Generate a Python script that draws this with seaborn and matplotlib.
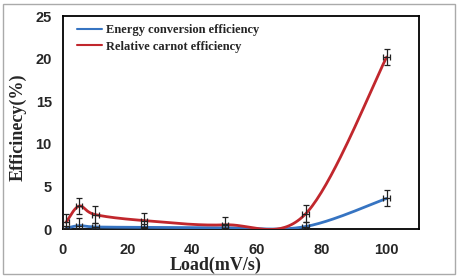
import numpy as np
import pandas as pd
import matplotlib
matplotlib.use("Agg")
import matplotlib.pyplot as plt
import seaborn as sns
from matplotlib.patches import Rectangle

# data
load = [1, 5, 10, 25, 50, 75, 100]
energy_eff = [0.1, 0.4, 0.25, 0.2, 0.15, 0.3, 3.6]
energy_err = [0.3, 0.9, 0.5, 0.4, 0.4, 0.5, 0.95]
carnot_eff = [0.8, 2.7, 1.7, 1.0, 0.5, 1.8, 20.2]
carnot_err = [1.0, 0.9, 1.0, 0.9, 0.9, 1.0, 0.95]
load_err = 1.0

BLUE = "#3674C2"
RED = "#C1272D"


def smooth_curve(xs, ys, n=40):
    # Excel-style smoothed line: cubic Bezier with Catmull-Rom control points
    p = np.column_stack([xs, ys]).astype(float)
    p = np.vstack([p[0], p, p[-1]])
    out = []
    for i in range(1, len(p) - 2):
        p0, p1, p2, p3 = p[i - 1], p[i], p[i + 1], p[i + 2]
        c1 = p1 + (p2 - p0) / 6
        c2 = p2 - (p3 - p1) / 6
        t = np.linspace(0, 1, n)[:, None]
        seg = ((1 - t) ** 3) * p1 + 3 * ((1 - t) ** 2) * t * c1 + 3 * (1 - t) * t ** 2 * c2 + t ** 3 * p2
        out.append(seg if i == 1 else seg[1:])
    seg = np.vstack(out)
    return seg[:, 0], seg[:, 1]


sns.set_style("white")

fig = plt.figure(figsize=(4.59, 2.78), dpi=100)
ax = fig.add_axes([0.137, 0.176, 0.776, 0.766])

curves = []
for name, ys in [("Energy conversion efficiency", energy_eff),
                 ("Relative carnot efficiency", carnot_eff)]:
    sx, sy = smooth_curve(load, ys)
    curves.append(pd.DataFrame({"load": sx, "eff": sy, "series": name}))
df = pd.concat(curves, ignore_index=True)

sns.lineplot(data=df, x="load", y="eff", hue="series", sort=False,
             palette=[BLUE, RED], linewidth=2.0, ax=ax, zorder=3)

for ys, es in [(energy_eff, energy_err), (carnot_eff, carnot_err)]:
    ax.errorbar(load, ys, yerr=es, xerr=load_err, fmt="none", ecolor="#222222",
                elinewidth=0.9, capsize=2.5, capthick=0.9, zorder=4)

ax.set_xlim(0, 110)
ax.set_ylim(0, 25)
ax.set_xticks([0, 20, 40, 60, 80, 100])
ax.set_yticks([0, 5, 10, 15, 20, 25])
ax.tick_params(axis="both", direction="out", length=3, width=1, color="#888888",
               labelsize=10.5)
ax.tick_params(axis="x", pad=7)
ax.tick_params(axis="y", pad=5)
for lab in ax.get_xticklabels() + ax.get_yticklabels():
    lab.set_fontfamily("Liberation Sans")
    lab.set_fontweight("bold")

for spine in ax.spines.values():
    spine.set_color("black")
    spine.set_linewidth(1.3)

ax.set_xlabel("Load(mV/s)", fontfamily="Liberation Serif", fontweight="bold",
              fontsize=13, va="center")
ax.xaxis.set_label_coords(0.43, -0.172)
ax.set_ylabel("Efficinecy(%)", fontfamily="Liberation Serif", fontweight="bold",
              fontsize=13, va="center")
ax.yaxis.set_label_coords(-0.125, 0.48)

leg = ax.legend(loc="upper left", frameon=False, handlelength=2.0,
                bbox_to_anchor=(0.025, 0.985), borderaxespad=0.0,
                labelspacing=0.35, handletextpad=0.35,
                prop={"family": "Liberation Serif", "weight": "bold", "size": 9})
for line in leg.get_lines():
    line.set_linewidth(1.5)

fig.patches.append(Rectangle((0.007, 0.014), 0.985, 0.972, transform=fig.transFigure,
                             fill=False, edgecolor="#AAAAAA", linewidth=1.0))

fig.savefig("out.png", dpi=100)
